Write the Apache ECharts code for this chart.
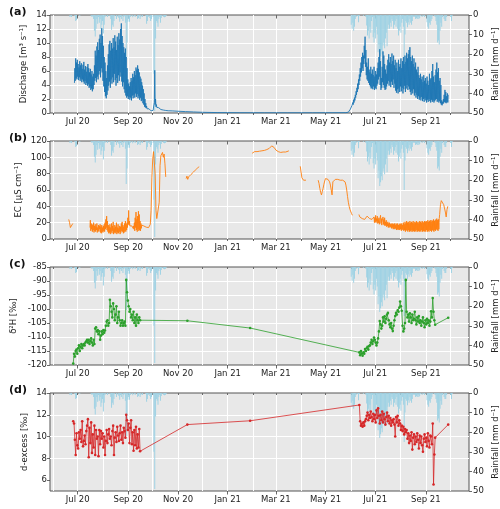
<!DOCTYPE html>
<html><head><meta charset="utf-8">
<script src="https://cdn.jsdelivr.net/npm/echarts@6/dist/echarts.min.js"></script>
<style>html,body{margin:0;padding:0;background:#fff}#c{width:500px;height:509px}</style>
</head><body><div id="c"></div>
<script>
// ---------------- DATA ----------------
const tickLabelDates = ['2020-07-01','2020-09-01','2020-11-01','2021-01-01','2021-03-01','2021-05-01','2021-07-01','2021-09-01'];
const tickLabels = ['Jul 20','Sep 20','Nov 20','Jan 21','Mar 21','May 21','Jul 21','Sep 21'];

// daily rainfall [mm/d]
const rain2020Start = '2020-06-20';
const rain2020 = [0,1,0.5,1,0,0,0,0.5,3,2.5,0,
 0,0,0.5,0,0,0,0,0,0,0, 0,0,0,0,0,0,0.5,1,0.5,2, 8,11,7,2,4.5,1,4,2,7,5, 3,
 9.5,5,1,0.5,0,1,0,0.5,0,2, 7.5,5,6,3,0.5,0,2,0,1,1.5, 3.5,1,2,0,3,1,0.5,4,22,14, 3.5,
 2,3.5,1,0,0.5,1.2,0,0.5,1,0, 0,2,1.5,0.5,2,1,0,1,0,0, 0,0.5,4.5,3,1,0,1.5,3,2,0,
 1,30,49,12,3,4,6,2,1,4, 1.5,0.5,0,1,1.2,1,0.5,0];
const rain2021Start = '2021-06-01';
const rain2021 = [5,7,4,8,6,2,1,0,0.5,3.7, 0.5,0,0,0,0,0.5,0,0,1,5.4, 10.5,8,12,6,9,3,1,11.4,14,9,
 12,6,10,19,15,23,21,18,20,15.6, 14,17,12,9,16,7,5,7,4,6, 2,3,7,5,3,6,2,7,10.5,8, 6,
 9,4,2,6,25,10,3,4,6.3,3.7, 5,2,4,5,3,1,0.5,1,2,1.5, 2,1,2,1.5,0.5,0,1,0,0.5,1, 0,
 0,3.7,6,7,4,5,3,2,0.5,0, 0.5,1,3,5,14,13,15,8,4,6, 1,0,2,3,3,1,0,0,0,0,
 1,3,0.5,0,0];

// discharge [m3/s]: daily [low, high]
const q2020Start = '2020-06-27';
const q2020 = [[4.3,6.4],[4.6,7.8],[5.0,7.2],[4.8,7.6],
 [5.2,7.0],[4.7,6.5],[5.1,7.4],[4.6,6.8],[4.9,7.1],[4.4,6.3],[4.8,6.9],[4.5,7.3],[4.2,6.2],[4.6,6.7],
 [4.0,5.9],[4.3,6.6],[3.9,7.0],[4.1,6.4],[3.6,5.8],[3.8,6.3],[3.3,5.5],[3.5,6.0],[3.1,5.2],[3.4,5.6],
 [4.0,6.8],[4.6,8.9],[5.0,8.2],[4.4,9.5],[5.2,10.1],[4.8,9.0],[5.5,10.6],[6.0,11.2],[5.1,10.0],[6.4,12.1],[5.8,11.0],
 [4.6,9.6],[3.8,8.0],[3.0,7.2],[2.4,6.0],[2.1,5.0],[2.6,6.8],[3.2,8.4],[3.9,9.8],[4.5,10.3],[3.6,8.9],
 [4.8,10.0],[4.2,9.2],[5.1,10.7],[4.4,9.4],[5.6,11.1],[4.7,10.2],[3.9,9.0],[5.0,10.9],[4.3,9.7],[5.4,11.4],
 [4.6,10.5],[5.8,12.0],[5.2,12.8],[4.5,11.0],[3.8,10.0],[4.4,9.4],[3.4,8.6],[2.9,9.2],[2.5,8.0],[2.2,6.4],[2.4,4.8],
 [2.0,4.2],[2.3,3.8],[1.9,4.4],[2.2,5.0],[1.8,4.6],[2.5,5.6],[2.1,5.1],[2.6,6.0],[2.2,5.4],[2.8,6.5],
 [2.3,6.2],[2.7,6.8],[2.1,6.3],[2.4,5.8],[1.9,5.2],[2.2,4.9],[1.7,4.4],[1.9,3.9],[1.4,3.4],[1.2,2.8],
 [0.9,2.0],[0.8,1.4],[0.7,1.0],[0.6,0.8],[0.5,0.7],[0.45,0.6],[0.4,0.55],[0.35,0.5],[0.3,0.45],[0.3,0.4],
 [0.28,0.38],[0.3,1.2],[1.5,6.1],[1.2,2.0],[0.9,1.2],[0.8,0.95],[0.7,0.85],[0.65,0.75],[0.6,0.7],[0.55,0.65],
 [0.5,0.6],[0.48,0.55],[0.45,0.52],[0.42,0.5],[0.4,0.48],[0.38,0.45],[0.36,0.42],[0.35,0.4],[0.33,0.38],[0.32,0.36]];
const qTailDates = ['2020-10-25','2020-11-01','2020-11-10','2020-11-20','2020-12-01','2020-12-20','2021-01-15','2021-02-15','2021-03-15','2021-04-15','2021-05-10'];
const qTailVals = [0.3,0.25,0.2,0.15,0.1,0.06,0.04,0.03,0.03,0.03,0.04];
const q2021Start = '2021-05-26';
const q2021 = [[0.05,0.06],[0.06,0.08],[0.08,0.12],[0.12,0.2],[0.2,0.35],[0.3,0.55],
 [0.5,0.8],[0.7,1.1],[0.9,1.5],[1.2,1.9],[1.5,2.2],[1.8,2.6],[2.2,3.1],[2.6,3.6],[3.0,4.2],[3.4,4.8],
 [4.0,5.5],[4.6,6.4],[5.2,7.2],[5.8,8.0],[6.4,8.6],[6.0,8.2],[7.0,9.6],[7.8,10.9],[6.6,9.0],[5.4,7.2],
 [4.8,6.6],[4.6,7.8],[4.3,6.2],[4.0,5.8],[3.8,6.6],[3.5,5.6],[3.6,6.2],[3.4,5.4],[3.8,6.6],[3.3,5.2],
 [3.6,6.0],[3.4,5.5],[3.9,6.4],[4.2,7.2],[4.8,8.0],[5.2,9.1],[4.0,7.4],[3.3,5.0],[3.6,6.6],[4.4,8.8],
 [4.0,8.2],[3.6,7.0],[3.3,6.2],[3.4,5.6],[3.8,6.8],[4.2,7.6],[4.6,8.4],[3.9,7.2],[4.4,8.0],[3.7,7.0],
 [4.5,8.5],[4.0,7.4],[4.8,8.2],[3.6,6.8],[4.2,7.6],[3.2,6.4],[2.9,7.2],[3.4,6.0],[2.8,7.6],[3.5,6.6],[3.0,7.0],
 [3.8,7.8],[3.1,6.4],[3.6,7.4],[2.8,8.0],[3.4,7.0],[3.9,8.2],[3.0,7.3],[3.5,8.6],[4.0,7.8],[3.3,8.4],
 [3.8,9.0],[3.4,9.4],[3.0,8.0],[2.6,7.4],[3.2,8.2],[2.8,7.0],[3.4,7.8],[2.5,6.6],[2.9,7.2],[2.2,6.2],
 [2.6,5.8],[2.0,6.6],[2.4,5.4],[1.9,5.0],[2.2,5.6],[1.8,4.8],[2.3,5.2],[1.7,4.4],[2.0,5.4],[1.6,4.6],[2.1,5.0],
 [1.8,4.2],[1.5,5.2],[1.9,4.6],[1.6,4.0],[2.0,5.6],[1.7,4.8],[1.5,5.0],[1.9,6.0],[1.6,7.0],[1.8,5.2],
 [1.5,4.4],[1.7,5.4],[1.9,6.2],[2.0,7.2],[1.6,5.8],[1.8,6.4],[1.5,4.6],[1.7,5.0],[1.4,4.0],[1.2,1.8],
 [1.1,1.6],[1.3,2.0],[1.4,2.6],[1.6,3.3],[1.5,3.0],[1.4,2.4],[1.6,2.8],[1.5,2.6]];

// EC [uS/cm]: segments, daily value or [low, high]
const ecA_Start = '2020-06-20';
const ecA = [24,20,14,12,16,19];
const ecB_Start = '2020-07-16';
const ecB = [[14,23],[10,19],[12,18],[9,17],[11,20],[8,16],[10,18],[9,15],[11,19],[8,14],[10,17],[9,16],[12,18],[8,15],[7,17],[9,14],
 [8,16],[10,18],[9,20],[12,24],[14,28],[11,22],[9,17],[7,15],[8,18],[6,14],[9,19],[7,16],[10,21],[6,13],[8,17],[7,15],
 [9,20],[6,14],[8,18],[7,13],[9,16],[6,15],[8,19],[10,21],[9,17],[7,15],[8,19],[10,22],[9,18],[11,20],[14,26],
 [18,35],[17,22],[16,18],[15,17],[14,16],[14,15],[13,16],[12,20],[10,26],[14,33],[11,24],[9,28],[12,34],[10,30],[11,22],[10,19],[13,17],
 16.5,16.5,16,15.5,15,14.5,14.5,14,14,15,18,35,75,
 98,107,108,80,35,25,24,27,45,90,102,104,106,100,104,92,76];
const ecD_Start = '2020-11-11';
const ecD = [74,77,73,76,78,77,79,80,81,82,83,84,85,86,87,88,88.5];
const ecE_Start = '2021-01-31';
const ecE = [105,
 106,106,107,107,107,107,107,107.5,107.5,108,108,108,108,108,108.5,109,109,109.5,110,110,111,112,113,114,115,114,112,110.5,
 109,108,107.5,107,106.5,106,106,106.5,106,106.5,107,107,106.5,107,107.5,107.5,108];
const ecF_Start = '2021-03-31';
const ecF = [89,82,75,73,72,74,70,72];
const ecG_Start = '2021-04-22';
const ecG = [72,68,62,57,54,58,62,67,71,
 74,76,75,73,72,70,66,60,54,70,72,71,73,72,74,73,72,73,72,73,71,72,71,72,70,66,60,52,45,40,36,
 34,31,29];
const ecH_Start = '2021-06-11';
const ecH = [30,27,25,26,25,24,25,24,26,25,28,29,27,25,24,23,24,23,[22,27],[20,26],
 [21,29],[20,25],[22,28],[19,24],[20,26],[18,23],[21,29],[19,25],[17,22],[20,27],[18,24],[17,26],[16,21],[17,23],[15,20],[16,21],
 [14,19],[15,20],[14,18],[15,19],[13,18],[14,19],[12,18],[13,19],[12,17],[13,19],[11,18],[12,19],[11,17],[12,18],[11,19],
 [12,18],[10,19],[12,17],[11,20],[10,18],[11,21],[9,19],[11,22],[10,20],[9,21],[11,19],[9,22],[10,20],[9,21],[11,20],[9,22],
 [10,19],[9,21],[10,20],[9,22],[11,20],[9,21],[10,19],[9,22],[10,21],[9,20],[11,22],[9,21],[10,20],[9,22],[10,21],
 [9,22],[11,21],[9,23],[10,21],[9,22],[11,23],[10,21],[9,23],[11,22],[10,24],[9,22],[11,23],[10,24],[12,25],[11,23],[10,24],[12,25],
 30,42,47,48,45,42,40,33,27,36,40];

// isotope samples (daily during field seasons + single winter samples)
const iso2020Start = '2020-06-25';
const isoMidDates = ['2020-11-12','2021-01-28'];
const iso2021Start = '2021-06-11';
const isoEndDates = ['2021-09-28'];

const d2H2020 = [-119.5,-116,-117,-115,-114.5,-116,
 -114,-113,-115,-113.5,-112.5,-114,-113, -112.5,-113,-112,-111.5,-111,
 -112,-111,-112.5,-111.5,-110.5,-112,-113,-111,
 -112.5,-107,-106.5,-108,-107.5,-109,-108,-111,-109.5,-108,-109,
 -107.5,-108.5,-107.7,-106, -104.5,-104,-106,-105, -96.7,-99,
 -101,-103,-98,-100,-104,-102,-99,-105,-103,-101,-104,-106,-105,-104,-106,-105,-104.5,-106,
 -89.6,-94,-97,
 -99,-101,-100,-103,-102,-104,-101,-105,-103,-106,-102,-104,-105,-103,-104];
const d2HMid = [-104.2,-106.8];
const d2H2021 = [-115.5,-116.5,-115,-116,-116.7,-115.5,-116,
 -114.3,-115,-114,-113.5,-114.5,-113.2,
 -113,-112,-111,-112.5,-111.5,
 -110.2,-111,-112,-113,-112,-110.5,-108,
 -104.3, -105.5,-107,-106,
 -103,-104.5,-102.6,-105,-103.5,-102,
 -101.4,-104,-105.5,-106.5,-105,-107,
 -107.9,-106,-104,-102.5,
 -101.4,-102,-100.5,-101,-99.5,
 -97.3,-99,-100.6,
 -106,-108,-107,-105,
 -89.6,
 -101,-103,-102,-104.5,-101.5,-103,-105,-102,-104,-103.5,-101,-104,-105.5,-103,-104.5,-102.5,-105,-104,-106,-104.5,
 -103,-105,-106.5,-104,-105.5,-103.5,-105,-104,-106,-104.5,
 -100.8,-103,-96.1,-101,-104,-105.6];
const d2HEnd = [-103.1];

const dex2020 = [11.4,11.2,9.7,8.3,10.3,9.2,
 8.9,10.4,9.8,10.6,9.5,11.4,9.1, 9.6,10.1,9.3,10.5,11.0,
 11.6,8.1,10.8,9.4,11.3,8.5,10.2,9.0,
 11.0,8.3,10.6,9.8,10.0,8.2,10.6,9.3,10.5,9.8,10.3,
 9.0,10.0,8.3,9.6, 10.6,9.4,10.2,10.7, 9.8,10.0,
 9.2,10.5,11.0,8.3,9.9,10.4,9.5,10.9,10.1,9.6,10.3,11.0,9.7,10.4,9.4,10.8,10.5,9.9,
 12.0,11.5,10.6,
 11.2,9.4,10.8,11.5,9.3,10.4,8.7,10.6,9.2,10.9,8.9,10.2,9.0,10.7,8.65];
const dexMid = [11.1,11.45];
const dex2021 = [12.9,11.4,11.0,11.2,10.9,11.3,11.0,
 11.4,11.6,11.9,12.2,11.5,12.0,
 11.7,12.3,11.8,11.4,12.1,
 11.6,12.0,11.3,12.4,11.7,12.6,11.9,
 11.2, 12.0,11.5,12.3,
 11.3,12.1,11.6,11.1,11.8,12.2,
 11.4,11.9,11.2,11.7,11.0,11.5,
 11.3,11.6,11.1,10.0,
 11.8,11.3,11.9,11.0,11.5,
 11.2,10.6,11.0,
 10.5,10.9,10.2,10.7,
 10.4,
 10.6,9.8,10.3,9.4,10.1,9.6,10.4,8.8,9.9,10.2,9.3,10.0,9.5,10.3,9.7,8.9,10.1,9.4,10.0,9.2,
 8.6,9.8,10.2,9.5,9.9,9.1,10.3,9.6,9.0,10.1,
 10.0,9.3,11.2,5.6,8.35,9.9];
const dexEnd = [11.1];

// ---------------- BUILD ----------------
const DAY = 86400000;
const ts = s => Date.parse(s + 'T00:00:00Z');
function daily(start, arr) {
  const out = [], t0 = ts(start);
  arr.forEach((v, i) => {
    const b = t0 + i * DAY;
    if (Array.isArray(v)) { out.push([b, v[0]]); out.push([b + DAY / 2, v[1]]); }
    else out.push([b, v]);
  });
  return out;
}
function rainData(start, arr) {
  const t0 = ts(start);
  return arr.map((v, i) => [t0 + i * DAY + DAY / 2, v]).filter(p => p[1] > 0);
}
const rainAll = rainData(rain2020Start, rain2020).concat(rainData(rain2021Start, rain2021));
const qAll = daily(q2020Start, q2020)
  .concat(qTailDates.map((d, i) => [ts(d), qTailVals[i]]))
  .concat(daily(q2021Start, q2021));
const ecSegs = [[ecA_Start, ecA], [ecB_Start, ecB], [ecD_Start, ecD], [ecE_Start, ecE], [ecF_Start, ecF], [ecG_Start, ecG], [ecH_Start, ecH]]
  .map(s => daily(s[0], s[1]));
function isoDates() {
  const out = [];
  for (let i = 0; i < d2H2020.length; i++) out.push(ts(iso2020Start) + i * DAY + DAY / 2);
  isoMidDates.forEach(d => out.push(ts(d) + DAY / 2));
  for (let i = 0; i < d2H2021.length; i++) out.push(ts(iso2021Start) + i * DAY + DAY / 2);
  isoEndDates.forEach(d => out.push(ts(d) + DAY / 2));
  return out;
}
const isoT = isoDates();
const d2HVals = d2H2020.concat(d2HMid, d2H2021, d2HEnd);
const dexVals = dex2020.concat(dexMid, dex2021, dexEnd);
const d2HData = isoT.map((t, i) => [t, d2HVals[i]]);
const dexData = isoT.map((t, i) => [t, dexVals[i]]);

const xMin = ts('2020-05-28'), xMax = ts('2021-10-24');
const monthTicks = [];
for (let y = 2020, m = 5; y < 2021 || m <= 9; ) { monthTicks.push(Date.UTC(y, m, 1)); m++; if (m > 11) { m = 0; y++; } }
const majorTicks = tickLabelDates.map(ts);

// ---------------- OPTION ----------------
const FONT = 'DejaVu Sans';
const TXT = '#222';
const tops = [15, 141, 267, 393];
const H = 98;
const grids = tops.map(t => ({ left: 50, right: 31, top: t, height: H, show: true, containLabel: false,
  outerBoundsMode: 'none',
  backgroundColor: '#e8e8e8', borderColor: '#555', borderWidth: 1 }));

const xAxes = [];
tops.forEach((t, i) => {
  xAxes.push({ gridIndex: i, type: 'value', min: xMin, max: xMax, position: 'bottom',
    axisLine: { show: false },
    axisTick: { show: true, customValues: monthTicks, length: 2, lineStyle: { color: '#444', width: 0.8 } },
    axisLabel: { show: false },
    splitLine: { show: true, lineStyle: { color: '#ffffff', width: 1 } } });
  xAxes.push({ gridIndex: i, type: 'value', min: xMin, max: xMax, position: 'bottom',
    axisLine: { show: false },
    axisTick: { show: true, customValues: majorTicks, length: 3.5, lineStyle: { color: '#444', width: 0.8 } },
    axisLabel: { show: true, customValues: majorTicks, margin: 4, fontSize: 8.5, color: TXT, fontFamily: FONT,
      formatter: v => { let k = 0, best = Infinity; majorTicks.forEach((m, j) => { const d = Math.abs(m - v); if (d < best) { best = d; k = j; } }); return tickLabels[k]; } },
    splitLine: { show: false } });
});

const leftDefs = [
  { min: 0, max: 14, interval: 2, name: 'Discharge [m\u00b3 s\u207b\u00b9]', gap: 22 },
  { min: 0, max: 120, interval: 20, name: 'EC [\u00b5S cm\u207b\u00b9]', gap: 27 },
  { min: -120, max: -85, interval: 5, name: '\u03b4\u00b2H [\u2030]', gap: 32 },
  { min: 5, max: 14, custom: [6, 8, 10, 12, 14], name: 'd-excess [\u2030]', gap: 21 }
];
const yAxes = [];
leftDefs.forEach((d, i) => {
  const y = { gridIndex: i, type: 'value', min: d.min, max: d.max, position: 'left',
    name: d.name, nameLocation: 'middle', nameGap: d.gap, nameRotate: 90, nameMoveOverlap: false,
    nameTextStyle: { fontSize: 8.5, color: TXT, fontFamily: FONT },
    axisLine: { show: false },
    axisTick: { show: true, length: 3, lineStyle: { color: '#444', width: 0.8 } },
    axisLabel: { margin: 3, fontSize: 8.5, color: TXT, fontFamily: FONT },
    splitLine: { show: true, showMinLine: false, showMaxLine: false, lineStyle: { color: '#ffffff', width: 1 } } };
  if (d.custom) { y.axisTick.customValues = d.custom; y.axisLabel.customValues = d.custom; }
  else y.interval = d.interval;
  yAxes.push(y);
  yAxes.push({ gridIndex: i, type: 'value', min: 0, max: 50, interval: 10, inverse: true, position: 'right',
    name: 'Rainfall [mm d\u207b\u00b9]', nameLocation: 'middle', nameGap: 22, nameRotate: 90, nameMoveOverlap: false,
    nameTextStyle: { fontSize: 8.5, color: TXT, fontFamily: FONT },
    axisLine: { show: false },
    axisTick: { show: true, length: 3, lineStyle: { color: '#444', width: 0.8 } },
    axisLabel: { margin: 4, fontSize: 8.5, color: TXT, fontFamily: FONT },
    splitLine: { show: false } });
});

const series = [];
// rainfall in every panel (drawn first, beneath the data lines)
for (let i = 0; i < 4; i++) {
  series.push({ type: 'bar', xAxisIndex: 2 * i, yAxisIndex: 2 * i + 1, data: rainAll, barWidth: 0.75, z: 2,
    itemStyle: { color: '#9fd2e4' } });
}
// discharge
series.push({ type: 'line', xAxisIndex: 0, yAxisIndex: 0, data: qAll, showSymbol: false, z: 3,
  lineStyle: { color: '#1f77b4', width: 0.9 }, itemStyle: { color: '#1f77b4' } });
// EC
ecSegs.forEach(seg => series.push({ type: 'line', xAxisIndex: 2, yAxisIndex: 2, data: seg, showSymbol: false, z: 3,
  lineStyle: { color: '#ff7f0e', width: 0.9 }, itemStyle: { color: '#ff7f0e' } }));
// d2H
series.push({ type: 'line', xAxisIndex: 4, yAxisIndex: 4, data: d2HData, symbol: 'circle', symbolSize: 2.6, showSymbol: true, z: 3,
  lineStyle: { color: '#2ca02c', width: 0.8 }, itemStyle: { color: '#2ca02c' } });
// d-excess
series.push({ type: 'line', xAxisIndex: 6, yAxisIndex: 6, data: dexData, symbol: 'circle', symbolSize: 2.6, showSymbol: true, z: 3,
  lineStyle: { color: '#d62728', width: 0.8 }, itemStyle: { color: '#d62728' } });

const titles = ['(a)', '(b)', '(c)', '(d)'].map((s, i) => ({ text: s, left: 4, top: tops[i] - 13,
  textStyle: { fontSize: 11, fontWeight: 'bold', color: '#111', fontFamily: FONT } }));

const chart = echarts.init(document.getElementById('c'), null, { renderer: 'canvas' });
chart.setOption({ animation: false, backgroundColor: '#ffffff', textStyle: { fontFamily: FONT },
  title: titles, grid: grids, xAxis: xAxes, yAxis: yAxes, series: series });
</script></body></html>
